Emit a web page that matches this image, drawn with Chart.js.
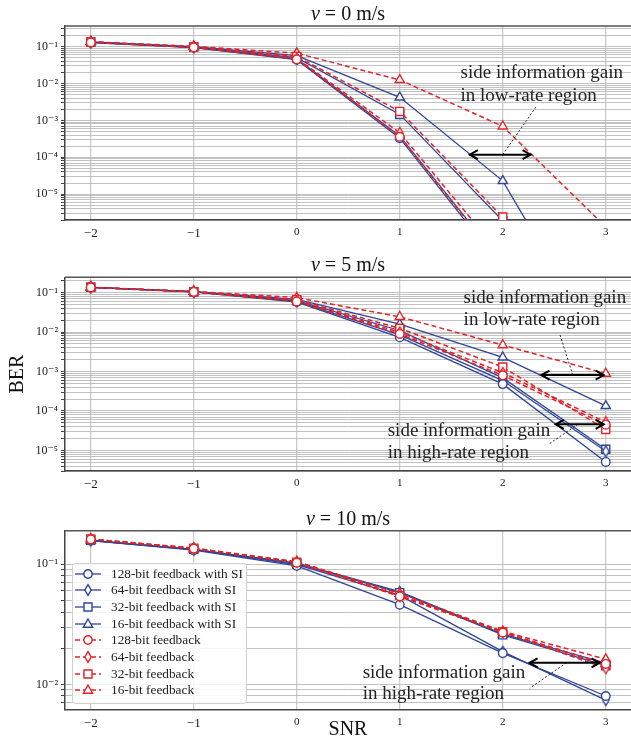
<!DOCTYPE html>
<html lang="en">
<head>
<meta charset="UTF-8">
<title>BER vs SNR with and without side information</title>
<script src="https://cdn.jsdelivr.net/npm/chart.js"></script>
<style>
  html, body { margin: 0; padding: 0; background: #fff; overflow: hidden; }
  .panel { position: absolute; left: 0; width: 631px; }
  #p0 { top: 0; }
  #p5 { top: 250px; }
  #p10 { top: 500px; }
</style>
</head>
<body>
<div class="panel" id="p0"><canvas id="c0" width="631" height="250"></canvas></div>
<div class="panel" id="p5"><canvas id="c5" width="631" height="250"></canvas></div>
<div class="panel" id="p10"><canvas id="c10" width="631" height="240"></canvas></div>

<script>
// ---- data ----
const snr = [-2, -1, 0, 1, 2, 3];
const seriesNames = [
  '128-bit feedback with SI', '64-bit feedback with SI', '32-bit feedback with SI', '16-bit feedback with SI',
  '128-bit feedback', '64-bit feedback', '32-bit feedback', '16-bit feedback'
];

// v = 0 m/s
const v0Si128 = [0.128, 0.094, 0.044, 3.3e-4, 1.0e-7, 1e-9];
const v0Si64  = [0.130, 0.095, 0.046, 3.8e-4, 1.3e-7, 1e-9];
const v0Si32  = [0.132, 0.097, 0.050, 1.45e-3, 1.9e-6, 1e-9];
const v0Si16  = [0.134, 0.099, 0.057, 4.2e-3, 2.3e-5, 4e-10];
const v0No128 = [0.129, 0.095, 0.045, 3.6e-4, 1.2e-7, 1e-9];
const v0No64  = [0.131, 0.096, 0.048, 4.6e-4, 2.0e-7, 1e-9];
const v0No32  = [0.133, 0.098, 0.054, 1.75e-3, 2.4e-6, 1e-9];
const v0No16  = [0.135, 0.101, 0.066, 0.0125, 6.9e-4, 1.3e-6];

// v = 5 m/s
const v5Si128 = [0.136, 0.105, 0.058, 0.0074, 4.8e-4, 5.1e-6];
const v5Si64  = [0.136, 0.105, 0.060, 0.0085, 5.9e-4, 9.5e-6];
const v5Si32  = [0.137, 0.106, 0.063, 0.011, 6.9e-4, 1.07e-5];
const v5Si16  = [0.137, 0.107, 0.068, 0.016, 2.3e-3, 1.35e-4];
const v5No128 = [0.136, 0.105, 0.060, 0.0090, 8.0e-4, 4.5e-5];
const v5No64  = [0.137, 0.106, 0.062, 0.0099, 9.3e-4, 5.2e-5];
const v5No32  = [0.137, 0.106, 0.066, 0.0125, 1.3e-3, 3.4e-5];
const v5No16  = [0.138, 0.108, 0.075, 0.0245, 4.7e-3, 8.9e-4];

// v = 10 m/s
const v10Si128 = [0.157, 0.131, 0.097, 0.046, 0.0182, 0.0080];
const v10Si64  = [0.157, 0.132, 0.099, 0.055, 0.0187, 0.0074];
const v10Si32  = [0.158, 0.133, 0.101, 0.058, 0.0258, 0.0143];
const v10Si16  = [0.158, 0.133, 0.102, 0.059, 0.0262, 0.0150];
const v10No128 = [0.161, 0.135, 0.103, 0.054, 0.0270, 0.0148];
const v10No64  = [0.161, 0.135, 0.104, 0.054, 0.0272, 0.0136];
const v10No32  = [0.162, 0.136, 0.104, 0.055, 0.0274, 0.0145];
const v10No16  = [0.162, 0.136, 0.105, 0.057, 0.0276, 0.0162];

// ---- styling ----
const BLUE = '#2f4596';
const RED = '#e1232a';
const FONT = "'Liberation Serif', 'DejaVu Serif', serif";
const shapes = ['circle', 'diamond', 'square', 'triangle'];

// thin diamond is not a built-in point style, so it is a small canvas
function markerCanvas(shape, color) {
  const c = document.createElement('canvas');
  c.width = 14; c.height = 14;
  const g = c.getContext('2d');
  g.translate(7, 7);
  g.beginPath();
  if (shape === 'circle') g.arc(0, 0, 4.2, 0, Math.PI * 2);
  else if (shape === 'square') g.rect(-4, -4, 8, 8);
  else if (shape === 'triangle') { g.moveTo(0, -5); g.lineTo(4.6, 3.2); g.lineTo(-4.6, 3.2); g.closePath(); }
  else { g.moveTo(0, -5.4); g.lineTo(3.2, 0); g.lineTo(0, 5.4); g.lineTo(-3.2, 0); g.closePath(); }
  g.fillStyle = '#fff';
  g.fill();
  g.strokeStyle = color;
  g.lineWidth = 1.4;
  g.stroke();
  return c;
}

const builtinStyle = { circle: ['circle', 4.3], square: ['rect', 5.7], triangle: ['triangle', 5.3] };

function makeDatasets(rows) {
  return rows.map((vals, i) => {
    const withSI = i < 4;
    const color = withSI ? BLUE : RED;
    const shape = shapes[i % 4];
    const b = builtinStyle[shape];
    return {
      label: seriesNames[i],
      shape: shape,
      data: snr.map((x, k) => ({ x: x, y: vals[k] })),
      borderColor: color,
      borderWidth: withSI ? 1.3 : 1.5,
      borderDash: withSI ? [] : [5, 3],
      pointStyle: b ? b[0] : markerCanvas(shape, color),
      pointRadius: b ? b[1] : 5,
      pointHoverRadius: b ? b[1] : 5,
      pointBackgroundColor: '#fff',
      pointBorderColor: color,
      pointBorderWidth: 1.4,
      order: withSI ? 2 : 1,
      tension: 0
    };
  });
}

const supMap = { '-': '\u207B', '0': '\u2070', '1': '\u00B9', '2': '\u00B2', '3': '\u00B3',
  '4': '\u2074', '5': '\u2075', '6': '\u2076', '7': '\u2077', '8': '\u2078', '9': '\u2079' };
function powLabel(v) {
  const e = String(Math.round(Math.log10(v)));
  return '10' + e.split('').map(ch => supMap[ch]).join('');
}

function logTicks(min, max) {
  const out = [];
  for (let e = Math.floor(Math.log10(min)); e <= Math.ceil(Math.log10(max)); e++) {
    for (let m = 1; m < 10; m++) {
      const v = m * Math.pow(10, e);
      if (v >= min && v <= max) out.push({ value: v, major: m === 1 });
    }
  }
  return out;
}

// ---- decorations: title, top spine, annotations, legend ----
function arrowHead(ctx, x, y, dir) {
  ctx.beginPath();
  ctx.moveTo(x + dir * 8, y - 4.5);
  ctx.lineTo(x, y);
  ctx.lineTo(x + dir * 8, y + 4.5);
  ctx.stroke();
}

const decor = {
  id: 'decor',
  afterDraw(chart, args, opts) {
    const ctx = chart.ctx;
    const ca = chart.chartArea;
    const xs = chart.scales.x, ys = chart.scales.y;
    const px = v => xs.getPixelForValue(v);
    const py = v => ys.getPixelForValue(v);
    ctx.save();

    // top spine
    ctx.strokeStyle = '#555';
    ctx.lineWidth = 1.5;
    ctx.beginPath();
    ctx.moveTo(ca.left, ca.top);
    ctx.lineTo(ca.right, ca.top);
    ctx.stroke();

    // title "v = .. m/s"
    const cx = (ca.left + ca.right) / 2;
    ctx.fillStyle = '#111';
    ctx.textBaseline = 'alphabetic';
    ctx.font = 'italic 20px ' + FONT;
    const w1 = ctx.measureText('v').width;
    ctx.font = '20px ' + FONT;
    const rest = ' = ' + opts.speed + ' m/s';
    const w2 = ctx.measureText(rest).width;
    const x0 = cx - (w1 + w2) / 2;
    ctx.font = 'italic 20px ' + FONT;
    ctx.fillText('v', x0, ca.top - 6);
    ctx.font = '20px ' + FONT;
    ctx.fillText(rest, x0 + w1, ca.top - 6);

    // annotations
    (opts.notes || []).forEach(n => {
      ctx.font = '19px ' + FONT;
      ctx.fillStyle = '#222';
      ctx.textBaseline = 'middle';
      ctx.textAlign = 'left';
      n.text.forEach(t => ctx.fillText(t[0], px(n.textX), py(t[1])));

      // dotted leader
      ctx.strokeStyle = '#111';
      ctx.lineWidth = 0.9;
      ctx.setLineDash([2, 2]);
      ctx.beginPath();
      ctx.moveTo(px(n.lead[0][0]), py(n.lead[0][1]));
      ctx.lineTo(px(n.lead[1][0]), py(n.lead[1][1]));
      ctx.stroke();
      ctx.setLineDash([]);

      // double arrow
      const ax1 = px(n.arrow[0]), ax2 = px(n.arrow[1]), ay = py(n.arrow[2]);
      ctx.strokeStyle = '#000';
      ctx.lineWidth = 2;
      ctx.beginPath();
      ctx.moveTo(ax1, ay);
      ctx.lineTo(ax2, ay);
      ctx.stroke();
      arrowHead(ctx, ax1, ay, 1);
      arrowHead(ctx, ax2, ay, -1);
    });

    // legend
    if (opts.legend) {
      const lx = ca.left + 7, ly = Math.round(ca.top) + 32, lw = 174, lh = 140;
      ctx.fillStyle = 'rgba(255,255,255,0.85)';
      ctx.strokeStyle = '#d0d0d0';
      ctx.lineWidth = 1;
      ctx.beginPath();
      ctx.roundRect(lx + 0.5, ly + 0.5, lw, lh, 3);
      ctx.fill();
      ctx.stroke();
      chart.data.datasets.forEach((ds, i) => {
        const y = Math.round(ly + 10.5 + i * 16.67);
        ctx.strokeStyle = ds.borderColor;
        ctx.lineWidth = ds.borderWidth;
        ctx.setLineDash(ds.borderDash);
        ctx.beginPath();
        ctx.moveTo(lx + 3, y);
        ctx.lineTo(lx + 29, y);
        ctx.stroke();
        ctx.setLineDash([]);
        ctx.drawImage(markerCanvas(ds.shape, ds.borderColor), lx + 16 - 7, y - 7);
        ctx.fillStyle = '#222';
        ctx.font = '13.3px ' + FONT;
        ctx.textBaseline = 'middle';
        ctx.fillText(ds.label, lx + 39, y + 0.5);
      });
    }
    ctx.restore();
  }
};

function buildPanel(canvasId, rows, yMin, yMax, padTop, xAxisH, deco, yTitle, xTitle) {
  return new Chart(document.getElementById(canvasId), {
    type: 'line',
    data: { datasets: makeDatasets(rows) },
    options: {
      responsive: false,
      animation: false,
      events: [],
      layout: { autoPadding: false, padding: { top: padTop, left: 0, right: 0, bottom: 0 } },
      scales: {
        x: {
          type: 'linear',
          min: -2.25,
          max: 3.245,
          bounds: 'data',
          afterFit: s => { s.height = xAxisH; },
          afterBuildTicks: s => { s.ticks = snr.map(v => ({ value: v })); },
          ticks: {
            autoSkip: false,
            maxRotation: 0,
            padding: 6,
            color: '#222',
            font: c => ({ family: FONT, size: c.tick && c.tick.value < 0 ? 13 : 11 }),
            callback: v => (v < 0 ? '\u2212' + Math.abs(v) : String(v))
          },
          grid: { color: '#cbcbcb', lineWidth: 1.3, drawTicks: false },
          border: { color: '#444', width: 1.5 },
          title: xTitle ? { display: true, text: xTitle, color: '#111',
            font: { family: FONT, size: 20, lineHeight: 1 }, padding: { top: 0, bottom: 0 } } : { display: false }
        },
        y: {
          type: 'logarithmic',
          min: yMin,
          max: yMax,
          afterFit: s => { s.width = 65; },
          afterBuildTicks: s => { s.ticks = logTicks(yMin, yMax); },
          ticks: {
            autoSkip: false,
            padding: 3,
            color: '#222',
            font: { family: FONT, size: 12 },
            callback: (v, i, t) => (t[i].major ? powLabel(v) : '')
          },
          grid: { color: '#b3b3b3', lineWidth: 0.8, tickLength: 4, tickColor: '#444', tickWidth: 1 },
          border: { color: '#444', width: 1.5 },
          title: yTitle ? { display: true, text: yTitle, color: '#111',
            font: { family: FONT, size: 20, lineHeight: 1.2 }, padding: { top: 6, bottom: 0 } } : { display: false }
        }
      },
      plugins: {
        legend: { display: false },
        tooltip: { enabled: false },
        decor: deco
      }
    },
    plugins: [decor]
  });
}

buildPanel('c0', [v0Si128, v0Si64, v0Si32, v0Si16, v0No128, v0No64, v0No32, v0No16],
  2.0e-6, 0.36, 26, 30, {
    speed: '0',
    notes: [{
      textX: 1.59,
      text: [['side information gain', 0.0194], ['in low-rate region', 0.0046]],
      arrow: [1.68, 2.27, 1.18e-4],
      lead: [[2.0, 1.18e-4], [2.33, 0.00247]]
    }]
  });

buildPanel('c5', [v5Si128, v5Si64, v5Si32, v5Si16, v5No128, v5No64, v5No32, v5No16],
  3.0e-6, 0.246, 27.3, 29, {
    speed: '5',
    notes: [{
      textX: 1.62,
      text: [['side information gain', 0.0746], ['in low-rate region', 0.0203]],
      arrow: [2.376, 2.98, 8.15e-4],
      lead: [[2.68, 8.15e-4], [2.553, 8.95e-3]]
    }, {
      textX: 0.883,
      text: [['side information gain', 3.09e-5], ['in high-rate region', 8.7e-6]],
      arrow: [2.515, 2.98, 4.57e-5],
      lead: [[2.728, 4.57e-5], [2.447, 1.44e-5]]
    }]
  }, 'BER');

buildPanel('c10', [v10Si128, v10Si64, v10Si32, v10Si16, v10No128, v10No64, v10No32, v10No16],
  0.0062, 0.19, 30.7, 30.7, {
    speed: '10',
    legend: true,
    notes: [{
      textX: 0.64,
      text: [['side information gain', 0.0125], ['in high-rate region', 0.0083]],
      arrow: [2.26, 2.94, 0.0151],
      lead: [[2.618, 0.0151], [2.262, 0.0093]]
    }]
  }, null, 'SNR');
</script>
</body>
</html>
